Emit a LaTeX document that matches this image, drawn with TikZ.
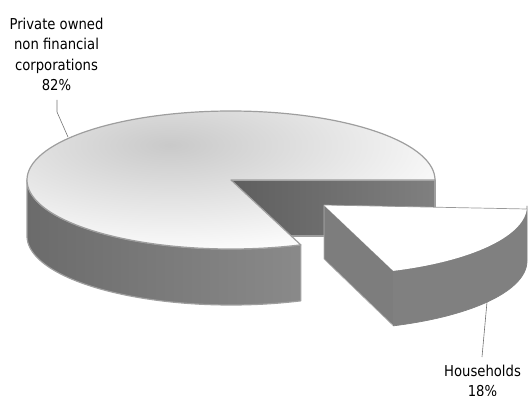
\documentclass[tikz,border=0pt]{standalone}
\usepackage{fontspec}
\setmainfont{DejaVu Sans}[FakeStretch=0.88]
\begin{document}
\begin{tikzpicture}[x=1pt,y=-1pt,
  outline/.style={draw=black!38, line width=1.2pt, line join=round},
  sliceline/.style={draw=black!30, line width=0.7pt, line join=round},
  leader/.style={draw=black!55, line width=0.6pt},
  lab/.style={font=\fontsize{15}{20.5}\selectfont, align=center, inner sep=0pt, text=black}]
\useasboundingbox (0,0) rectangle (528,396);
% radial face of main pie seen through the gap
\path[outline, left color=black!63, right color=black!50]
  (231,180) -- (435,180) -- (435,236) -- (231,236) -- cycle;
% front curved side of main pie
\path[outline, left color=black!58, right color=black!46]
  plot[domain=70:180, samples=60] ({231+204*cos(\x)},{180+69*sin(\x)})
  -- plot[domain=180:70, samples=60] ({231+204*cos(\x)},{236+69*sin(\x)}) -- cycle;
% top face of main pie
\begin{scope}
  \clip (231,180) -- plot[domain=70:360, samples=160] ({231+204*cos(\x)},{180+69*sin(\x)}) -- cycle;
  \fill[white] (0,0) rectangle (528,396);
  \shade[inner color=black!21, outer color=white] (170,145) ellipse [x radius=320, y radius=115];
\end{scope}
\path[outline]
  (231,180) -- plot[domain=70:360, samples=160] ({231+204*cos(\x)},{180+69*sin(\x)}) -- cycle;
% exploded slice: radial face
\path[sliceline, fill=black!51]
  (324,205) -- ({324+203*cos(70)},{206+69*sin(70)}) -- ({324+203*cos(70)},{261+69*sin(70)}) -- (324,259) -- cycle;
% exploded slice: outer side
\path[sliceline, draw=black!50, fill=black!50]
  plot[domain=0:70, samples=50] ({324+203*cos(\x)},{206+69*sin(\x)})
  -- plot[domain=70:0, samples=50] ({324+203*cos(\x)},{261+69*sin(\x)}) -- cycle;
% exploded slice: top
\path[fill=white]
  (324,205) -- (527,209) -- plot[domain=0:70, samples=50] ({324+203*cos(\x)},{206+69*sin(\x)}) -- cycle;
\draw[draw=black!40, line width=0.7pt] (324,205) -- (527,209);
% labels
\node[lab, anchor=north] (labA) at (56.5,17.5) {Private owned\\non financial\\corporations\\82\%};
\node[lab, anchor=north] (labB) at (482.5,364.5) {Households\\18\%};
\coordinate (lA1) at (57,100);
\coordinate (lA2) at (57,112);
\coordinate (lA3) at (68,137);
\coordinate (lB1) at (487,302);
\coordinate (lB2) at (482,357);
\draw[leader] (lA1) -- (lA2) -- (lA3);
\draw[leader] (lB1) -- (lB2);
\end{tikzpicture}
\end{document}
